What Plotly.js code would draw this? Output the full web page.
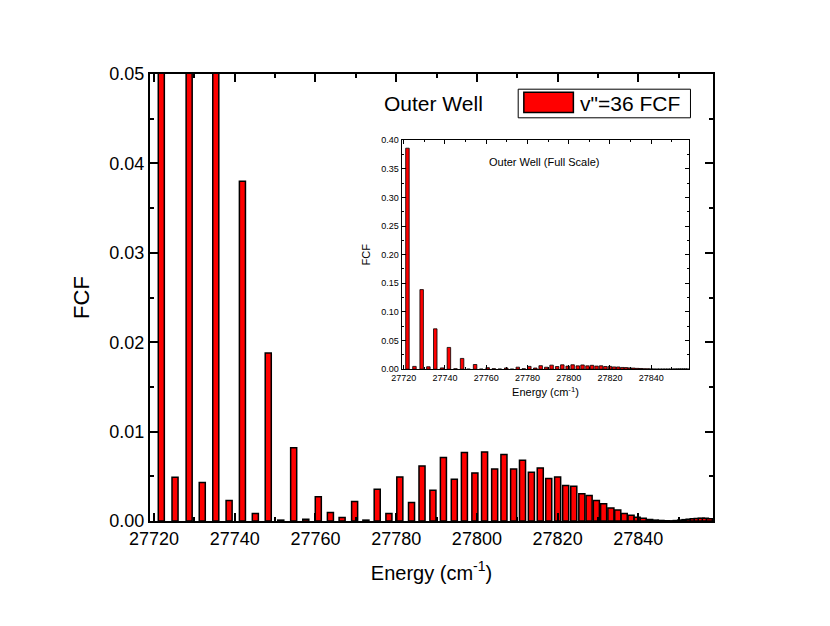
<!DOCTYPE html>
<html>
<head>
<meta charset="utf-8">
<script src="https://cdn.plot.ly/plotly-3.0.1.min.js"></script>
<style>
  html, body { margin: 0; padding: 0; background: #fff; }
  #chart { width: 830px; height: 626px; }
</style>
</head>
<body>
<div id="chart"></div>
<script>
// transition energies (cm-1) and Franck-Condon factors for v"=36
const energy = [
  27721.8, 27725.2, 27728.7, 27731.95, 27735.3, 27738.6, 27741.9, 27745.1, 27748.3, 27751.4,
  27754.6, 27757.6, 27760.7, 27763.7, 27766.6, 27769.7, 27772.5, 27775.3, 27778.2, 27780.9,
  27783.8, 27786.4, 27789.1, 27791.7, 27794.4, 27796.9, 27799.5, 27801.9, 27804.4, 27806.7,
  27809.1, 27811.3, 27813.5, 27815.7, 27817.8, 27820.0, 27822.0, 27824.0, 27826.0, 27827.8,
  27829.6, 27831.4, 27833.2, 27834.9, 27836.5, 27838.2, 27839.7, 27841.2, 27842.8, 27844.2,
  27845.6, 27846.9, 27848.2, 27849.4, 27850.5, 27851.6, 27852.6, 27853.6, 27854.6, 27855.6,
  27856.6, 27857.6
];
const fcf = [
  0.386, 0.0049, 0.139, 0.0043, 0.0705, 0.0023, 0.0380, 0.00083, 0.0188, 0.0001,
  0.0082, 0.0002, 0.0027, 0.00094, 0.00038, 0.00217, 0.0001, 0.00355, 0.00083, 0.00493,
  0.00206, 0.00616, 0.00344, 0.0071, 0.00467, 0.00766, 0.00538, 0.00773, 0.00582, 0.00743,
  0.00582, 0.0068, 0.00545, 0.00594, 0.00474, 0.00493, 0.00396, 0.00389, 0.00306, 0.00284,
  0.00228, 0.00194, 0.00146, 0.00123, 0.00083, 0.00064, 0.00041, 0.0003, 0.00018, 0.0001,
  0.00006, 0.00003, 0.00002, 0.00005, 0.0001, 0.00015, 0.0002, 0.00025, 0.00028, 0.0003,
  0.0003, 0.00025
];
const seriesName = 'v"=36 FCF';
const xRange = [27719, 27858.5];

const font = 'Liberation Sans, Arial, sans-serif';

const mainBars = {
  x: energy, y: fcf, type: 'bar', width: 1.5,
  marker: { color: '#ff0000', line: { color: '#000', width: 1.5 } },
  name: seriesName, showlegend: false, hoverinfo: 'x+y'
};
const insetBars = {
  x: energy, y: fcf, type: 'bar', width: 1.7,
  xaxis: 'x2', yaxis: 'y2',
  marker: { color: '#ff0000', line: { color: '#000', width: 0.8 } },
  showlegend: false, hoverinfo: 'x+y'
};

const layout = {
  width: 830, height: 626,
  margin: { l: 150, r: 117, t: 74, b: 105 },
  paper_bgcolor: '#fff', plot_bgcolor: '#fff',
  font: { family: font, color: '#000' },
  bargap: 0,
  xaxis: {
    range: xRange, tick0: 27720, dtick: 20, tickformat: 'd',
    ticks: 'inside', ticklen: 8, tickwidth: 2, tickcolor: '#000',
    minor: { dtick: 10, ticks: 'inside', ticklen: 4, tickwidth: 2, tickcolor: '#000' },
    showline: true, linewidth: 2, linecolor: '#000', mirror: 'allticks',
    showgrid: false, zeroline: false,
    tickfont: { size: 18 },
    title: { text: 'Energy (cm<sup>-1</sup>)', font: { size: 20 }, standoff: 18 },
    automargin: false
  },
  yaxis: {
    range: [0, 0.05], dtick: 0.01, tickformat: '.2f',
    ticks: 'inside', ticklen: 8, tickwidth: 2, tickcolor: '#000',
    minor: { dtick: 0.005, ticks: 'inside', ticklen: 4, tickwidth: 2, tickcolor: '#000' },
    showline: true, linewidth: 2, linecolor: '#000', mirror: 'allticks',
    showgrid: false, zeroline: false,
    tickfont: { size: 18 },
    title: { text: 'FCF', font: { size: 22 }, standoff: 14 },
    automargin: false
  },
  xaxis2: {
    domain: [0.447, 0.958], anchor: 'y2',
    range: xRange, tick0: 27720, dtick: 20, tickformat: 'd',
    ticks: 'inside', ticklen: 4, tickwidth: 1, tickcolor: '#000',
    minor: { dtick: 10, ticks: 'inside', ticklen: 2, tickwidth: 1, tickcolor: '#000' },
    showline: true, linewidth: 1, linecolor: '#000', mirror: 'allticks',
    showgrid: false, zeroline: false,
    tickfont: { size: 9 },
    title: { text: 'Energy (cm<sup>-1</sup>)', font: { size: 11 }, standoff: 6 }
  },
  yaxis2: {
    domain: [0.3396, 0.852], anchor: 'x2',
    range: [0, 0.40], dtick: 0.05, tickformat: '.2f',
    ticks: 'inside', ticklen: 4, tickwidth: 1, tickcolor: '#000',
    minor: { dtick: 0.025, ticks: 'inside', ticklen: 2, tickwidth: 1, tickcolor: '#000' },
    showline: true, linewidth: 1, linecolor: '#000', mirror: 'allticks',
    showgrid: false, zeroline: false,
    tickfont: { size: 9 },
    title: { text: 'FCF', font: { size: 11 }, standoff: 8 }
  },
  shapes: [
    // legend box and swatch
    { type: 'rect', xref: 'paper', yref: 'paper', x0: 0.654, x1: 0.960, y0: 0.902, y1: 0.966,
      line: { color: '#000', width: 1 }, fillcolor: '#fff' },
    { type: 'rect', xref: 'paper', yref: 'paper', x0: 0.664, x1: 0.752, y0: 0.914, y1: 0.959,
      line: { color: '#000', width: 1.5 }, fillcolor: '#ff0000' }
  ],
  annotations: [
    { text: 'Outer Well', xref: 'paper', yref: 'paper', x: 0.503, y: 0.935,
      xanchor: 'center', yanchor: 'middle', showarrow: false, font: { size: 21 } },
    { text: seriesName, xref: 'paper', yref: 'paper', x: 0.760, y: 0.934,
      xanchor: 'left', yanchor: 'middle', showarrow: false, font: { size: 21 } },
    { text: 'Outer Well (Full Scale)', xref: 'paper', yref: 'paper', x: 0.700, y: 0.803,
      xanchor: 'center', yanchor: 'middle', showarrow: false, font: { size: 11 } }
  ]
};

Plotly.newPlot('chart', [mainBars, insetBars], layout, { staticPlot: true });
</script>
</body>
</html>
